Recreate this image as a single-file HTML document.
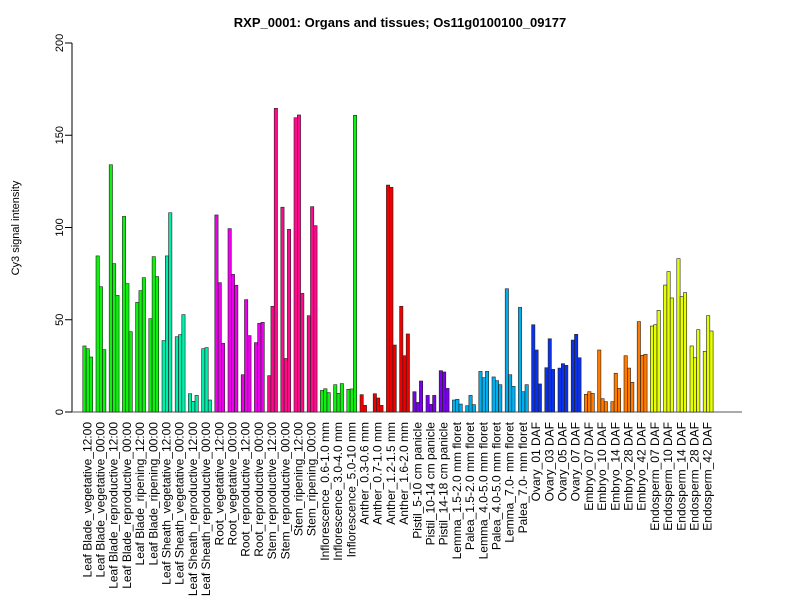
<!DOCTYPE html>
<html><head><meta charset="utf-8"><style>
body{margin:0;background:#fff}
svg text{font-family:"Liberation Sans",Arial,sans-serif}
</style></head><body>
<svg id="c" width="800" height="600" xmlns="http://www.w3.org/2000/svg">
<rect width="800" height="600" fill="#fff"/>
<text x="400" y="27" text-anchor="middle" font-size="13" font-weight="bold">RXP_0001: Organs and tissues; Os11g0100100_09177</text>
<text transform="translate(19,228) rotate(-90)" text-anchor="middle" font-size="11">Cy3 signal intensity</text>
<line x1="72" y1="43" x2="72" y2="412" stroke="#000"/>
<line x1="72" y1="412" x2="742" y2="412" stroke="#555"/>
<g id="g"></g>
</svg>
<script>
var labels=["Leaf Blade_vegetative_12:00","Leaf Blade_vegetative_00:00","Leaf Blade_reproductive_12:00","Leaf Blade_reproductive_00:00","Leaf Blade_ripening_12:00","Leaf Blade_ripening_00:00","Leaf Sheath_vegetative_12:00","Leaf Sheath_vegetative_00:00","Leaf Sheath_reproductive_12:00","Leaf Sheath_reproductive_00:00","Root_vegetative_12:00","Root_vegetative_00:00","Root_reproductive_12:00","Root_reproductive_00:00","Stem_reproductive_12:00","Stem_reproductive_00:00","Stem_ripening_12:00","Stem_ripening_00:00","Inflorescence_0.6-1.0 mm","Inflorescence_3.0-4.0 mm","Inflorescence_5.0-10 mm","Anther_0.3-0.6 mm","Anther_0.7-1.0 mm","Anther_1.2-1.5 mm","Anther_1.6-2.0 mm","Pistil_5-10 cm panicle","Pistil_10-14 cm panicle","Pistil_14-18 cm panicle","Lemma_1.5-2.0 mm floret","Palea_1.5-2.0 mm floret","Lemma_4.0-5.0 mm floret","Palea_4.0-5.0 mm floret","Lemma_7.0- mm floret","Palea_7.0- mm floret","Ovary_01 DAF","Ovary_03 DAF","Ovary_05 DAF","Ovary_07 DAF","Embryo_07 DAF","Embryo_10 DAF","Embryo_14 DAF","Embryo_28 DAF","Embryo_42 DAF","Endosperm_07 DAF","Endosperm_10 DAF","Endosperm_14 DAF","Endosperm_28 DAF","Endosperm_42 DAF"];
var v=[[35.8,34.3,29.8],[84.6,67.9,33.8],[134,80.4,63.2],[106,69.6,43.5],[59.4,65.8,72.8],[50.6,84.2,73.4],[38.7,84.6,108],[40.8,41.9,52.8],[9.9,5.8,9],[34.3,34.9,6.5],[106.8,70.1,37.2],[99.4,74.6,68.7],[20.2,60.9,41.4],[37.6,48.1,48.6],[19.7,57.3,164.6],[111,29,99],[159.5,161,64.3],[52.2,111.3,101],[11.7,12.6,10.5],[14.8,10.1,15.4],[12.3,12.5,160.8],[9.4,3.6,0],[9.9,7.6,3.6],[123,121.8,36.3],[57.3,30.5,42.3],[11,5.2,16.8],[9,4.2,9],[22.4,21.7,12.8],[6.5,6.9,4.3],[3.4,9,4],[22,18.6,22],[19,17,14.8],[66.8,20.2,13.9],[56.7,11,14.8],[47.3,33.6,15.2],[24,39.7,23.1],[23.8,26.2,25.3],[39,42.1,29.4],[9.6,11,10.1],[33.6,7.2,5.6],[5.6,21,12.8],[30.5,23.8,16.1],[49,30.7,31.3],[46.6,47.3,55.1],[68.8,76.1,61.8],[83.1,62.5,64.7],[35.8,29.4,44.6],[32.9,52.2,43.9]];
function col(i){if(i<6)return"#10f010";if(i<10)return"#00eeaa";if(i<14)return"#ee00ee";if(i<18)return"#ff0a8c";if(i<21)return"#10f010";if(i<25)return"#ee0000";if(i<28)return"#7a00ee";if(i<34)return"#00b0ee";if(i<38)return"#0a32ee";if(i<43)return"#ff7a00";return"#e6ff00";}
var s="",u=3.3,x0=82.8,k=1.845;
for(var t=0;t<=200;t+=50){var y=412-t*k;s+='<line x1="65" y1="'+y+'" x2="72" y2="'+y+'" stroke="#000"/><text transform="translate(63,'+y+') rotate(-90)" text-anchor="middle" font-size="11">'+t+'</text>';}
for(var i=0;i<48;i++){var gx=x0+i*4*u;for(var j=0;j<3;j++){var h=v[i][j]*k;if(h<=0)continue;s+='<rect x="'+(gx+j*u)+'" y="'+(412-h)+'" width="'+u+'" height="'+h+'" fill="'+col(i)+'" stroke="#222" stroke-width="0.6"/>';}
var cx=gx+1.5*u+3.5;s+='<text transform="translate('+cx+',422) rotate(-90)" text-anchor="end" font-size="12">'+labels[i]+'</text>';}
document.getElementById("g").innerHTML=s;
</script>
</body></html>
